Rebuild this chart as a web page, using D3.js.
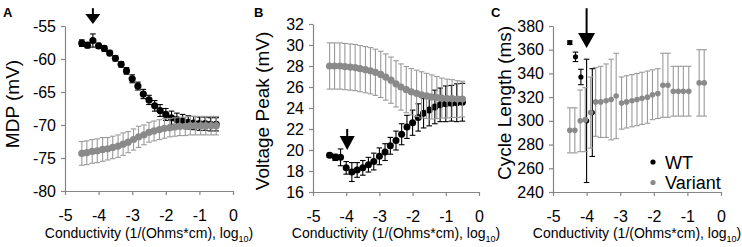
<!DOCTYPE html>
<html>
<head>
<meta charset="utf-8">
<script src="https://cdn.jsdelivr.net/npm/d3@7"></script>
<style>
  body { margin: 0; background: #fff; }
  svg { display: block; font-family: Arial, "Liberation Sans", sans-serif; }
</style>
</head>
<body>
<script>
// conductivity grid (log10), WT and Variant were run on slightly different grids
const wtX = [-4.5, -4.33, -4.17, -4, -3.83, -3.67, -3.5, -3.33, -3.17, -3, -2.83, -2.67, -2.5,
  -2.33, -2.17, -2, -1.83, -1.67, -1.5, -1.33, -1.17, -1, -0.83, -0.67, -0.5]
const variantX = [-4.5, -4.35, -4.19, -4.04, -3.88, -3.73, -3.58, -3.42, -3.27, -3.12, -2.96, -2.81,
  -2.65, -2.5, -2.35, -2.19, -2.04, -1.88, -1.73, -1.58, -1.42, -1.27, -1.12, -0.96, -0.81, -0.65, -0.5]

// A: MDP (mV)
const mdpWT = [-57.6, -57.9, -57.2, -58.0, -58.4, -59.1, -59.9, -60.8, -61.8, -63.0, -64.1, -65.3, -66.2,
  -67.1, -67.8, -68.4, -68.9, -69.2, -69.4, -69.6, -69.7, -69.8, -69.8, -69.9, -69.9]
const mdpWTErr = [0.5, 0.4, 1.0, 0.4, 0.4, 0.4, 0.4, 0.4, 0.5, 0.6, 0.6, 0.7, 0.7,
  0.8, 0.9, 0.9, 1.0, 1.0, 1.0, 1.0, 1.0, 1.0, 1.0, 1.0, 1.0]
const mdpVar = [-74.3, -74.2, -74.0, -73.9, -73.7, -73.6, -73.4, -73.2, -72.9, -72.6, -72.2, -71.8, -71.5,
  -71.1, -70.9, -70.7, -70.5, -70.4, -70.3, -70.2, -70.2, -70.1, -70.1, -70.1, -70.1, -70.1, -70.1]
const mdpVarErr = [1.8, 1.8, 1.8, 1.8, 1.8, 1.7, 1.7, 1.7, 1.7, 1.6, 1.6, 1.6, 1.5,
  1.5, 1.5, 1.5, 1.5, 1.4, 1.4, 1.4, 1.4, 1.4, 1.4, 1.4, 1.4, 1.4, 1.4]

// B: Voltage Peak (mV)
const peakWT = [19.5, 19.3, 19.3, 18.3, 17.9, 18.1, 18.3, 18.6, 18.9, 19.4, 19.8, 20.4, 20.9,
  21.5, 22.2, 22.6, 23.1, 23.5, 23.8, 24.1, 24.3, 24.4, 24.45, 24.5, 24.55]
const peakWTErr = [0.2, 0.3, 0.8, 0.6, 0.9, 0.7, 0.7, 0.7, 0.8, 0.8, 0.8, 0.8, 0.9,
  1.0, 1.1, 1.2, 1.3, 1.4, 1.5, 1.6, 1.6, 1.7, 1.7, 1.8, 1.8]
const peakVar = [28.0, 28.0, 28.0, 27.95, 27.9, 27.85, 27.75, 27.65, 27.55, 27.4, 27.2, 26.95, 26.65,
  26.3, 26.0, 25.75, 25.55, 25.4, 25.25, 25.15, 25.05, 25.0, 24.95, 24.9, 24.9, 24.85, 24.85]
const peakVarErr = [2.2, 2.2, 2.2, 2.2, 2.2, 2.2, 2.2, 2.2, 2.2, 2.2, 2.2, 2.2, 2.2,
  2.2, 2.2, 2.2, 2.2, 2.2, 2.2, 2.15, 2.1, 2.0, 1.9, 1.85, 1.8, 1.75, 1.7]

// C: Cycle Length (ms)
const cycleWTX = [-4.5, -4.33, -4.17, -4, -3.83]
const cycleWT = [366, 354, 337, 300, 307]
const cycleWTErr = [1.5, 4, 6.5, 52, 37]
const cycleVarX = [-4.5, -4.35, -4.19, -4.04, -3.88, -3.73, -3.58, -3.42, -3.27, -3.12, -2.96, -2.81,
  -2.65, -2.5, -2.35, -2.19, -2.04, -1.88, -1.73, -1.58, -1.42, -1.27, -1.12, -0.96, -0.65, -0.5]
const cycleVar = [292, 292, 300, 301, 307, 316, 316, 317, 318, 321, 315, 316,
  317, 318, 319, 320, 322, 323, 330, 330, 325, 325, 325, 325, 332, 332]
const cycleVarErr = [19, 19, 26, 27, 30, 29, 30, 31, 34, 36, 22, 22,
  22, 22, 22, 22, 21, 21, 27, 27, 21, 21, 21, 21, 28, 28]

// axes
const xTicks = [-5, -4, -3, -2, -1, 0]
const mdpTicks = [-80, -75, -70, -65, -60, -55]
const peakTicks = [16, 18, 20, 22, 24, 26, 28, 30, 32]
const cycleTicks = [240, 260, 280, 300, 320, 340, 360, 380]

const legendLabels = ['WT', 'Variant']

const BLACK = '#000'
const GREY = '#8a8a8a'
const GREY_BAR = '#9a9a9a'
const AXIS = '#868686'

const width = 742
const height = 247

const svg = d3.select('body').append('svg')
  .attr('width', width)
  .attr('height', height)

const panels = [
  {
    letter: 'A', letterX: 3, title: 'MDP (mV)', titleX: 18.5, titleY: 104,
    box: { left: 65, right: 233, top: 26, bottom: 191 },
    domain: [-80, -55], ticks: mdpTicks,
    arrow: { x: -4.17, top: -52.3, tip: -54.7, head: 10, w: 15 },
    series: [
      { x: wtX, y: mdpWT, err: mdpWTErr, fill: BLACK, bar: BLACK, r: 3.6 },
      { x: variantX, y: mdpVar, err: mdpVarErr, fill: GREY, bar: GREY_BAR, r: 3.6 }
    ]
  },
  {
    letter: 'B', letterX: 254, title: 'Voltage Peak (mV)', titleX: 268.5, titleY: 111,
    box: { left: 313, right: 479, top: 24, bottom: 192 },
    domain: [16, 32], ticks: peakTicks,
    arrow: { x: -3.97, top: 22.0, tip: 20.0, head: 14, w: 15 },
    series: [
      { x: wtX, y: peakWT, err: peakWTErr, fill: BLACK, bar: BLACK, r: 3.5 },
      { x: variantX, y: peakVar, err: peakVarErr, fill: GREY, bar: GREY_BAR, r: 3.6 }
    ]
  },
  {
    letter: 'C', letterX: 491, title: 'Cycle Length (ms)', titleX: 510.5, titleY: 103,
    box: { left: 553, right: 721, top: 26, bottom: 192 },
    domain: [240, 380], ticks: cycleTicks,
    arrow: { x: -4.0, top: 395, tip: 361.4, head: 15, w: 17 },
    series: [
      { x: cycleWTX, y: cycleWT, err: cycleWTErr, fill: BLACK, bar: BLACK, r: 2.6 },
      { x: cycleVarX, y: cycleVar, err: cycleVarErr, fill: GREY, bar: GREY_BAR, r: 2.8 }
    ],
    legend: true
  }
]

panels.forEach(p => {
  const x = d3.scaleLinear().domain([-5, 0]).range([p.box.left, p.box.right])
  const y = d3.scaleLinear().domain(p.domain).range([p.box.bottom, p.box.top])

  const g = svg.append('g')

  // y axis
  const yAxis = g.append('g')
    .attr('transform', `translate(${p.box.left},0)`)
    .call(d3.axisLeft(y).tickValues(p.ticks).tickSize(4).tickSizeOuter(0).tickPadding(5)
      .tickFormat(d => String(d)))
  // x axis
  const xAxis = g.append('g')
    .attr('transform', `translate(0,${p.box.bottom})`)
    .call(d3.axisBottom(x).tickValues(xTicks).tickSize(4).tickSizeOuter(0).tickPadding(14.6)
      .tickFormat(d => String(d)))

  ;[yAxis, xAxis].forEach(a => {
    a.select('.domain').attr('stroke', AXIS).attr('stroke-width', 1.2)
    a.selectAll('.tick line').attr('stroke', AXIS).attr('stroke-width', 1.2)
    a.selectAll('.tick text').attr('fill', '#000').style('font-size', '16px')
      .style('font-family', 'Arial, "Liberation Sans", sans-serif')
  })

  // x axis title with subscript
  const xt = g.append('text')
    .attr('x', (p.box.left + p.box.right) / 2)
    .attr('y', 238)
    .attr('text-anchor', 'middle')
    .style('font-size', '14px')
  xt.append('tspan').text('Conductivity (1/(Ohms*cm), log')
  xt.append('tspan').attr('dy', 4).style('font-size', '9px').text('10')
  xt.append('tspan').attr('dy', -4).text(')')

  // y axis title
  g.append('text')
    .attr('transform', `translate(${p.titleX},${p.titleY}) rotate(-90)`)
    .attr('text-anchor', 'middle')
    .style('font-size', '19px')
    .text(p.title)

  // panel letter
  g.append('text')
    .attr('x', p.letterX)
    .attr('y', 17)
    .style('font-size', '13px')
    .style('font-weight', 'bold')
    .text(p.letter)

  // series
  p.series.forEach(s => {
    const pts = s.x.map((xv, i) => ({ x: xv, y: s.y[i], e: s.err[i] }))
    const cap = 2.8

    const bars = g.append('g')
      .attr('stroke', s.bar)
      .attr('stroke-width', 1.1)
    bars.selectAll('line.v')
      .data(pts)
      .join('line')
      .attr('class', 'v')
      .attr('x1', d => x(d.x))
      .attr('x2', d => x(d.x))
      .attr('y1', d => y(d.y - d.e))
      .attr('y2', d => y(d.y + d.e))
    bars.selectAll('line.top')
      .data(pts)
      .join('line')
      .attr('class', 'top')
      .attr('x1', d => x(d.x) - cap)
      .attr('x2', d => x(d.x) + cap)
      .attr('y1', d => y(d.y + d.e))
      .attr('y2', d => y(d.y + d.e))
    bars.selectAll('line.bot')
      .data(pts)
      .join('line')
      .attr('class', 'bot')
      .attr('x1', d => x(d.x) - cap)
      .attr('x2', d => x(d.x) + cap)
      .attr('y1', d => y(d.y - d.e))
      .attr('y2', d => y(d.y - d.e))

    g.append('g')
      .selectAll('circle')
      .data(pts)
      .join('circle')
      .attr('cx', d => x(d.x))
      .attr('cy', d => y(d.y))
      .attr('r', s.r)
      .attr('fill', s.fill)
  })

  // arrow annotation
  const a = p.arrow
  const ax = x(a.x)
  const tipY = y(a.tip)
  const topY = y(a.top)
  g.append('line')
    .attr('x1', ax).attr('x2', ax)
    .attr('y1', topY).attr('y2', tipY - a.head + 1)
    .attr('stroke', '#000').attr('stroke-width', 2)
  g.append('path')
    .attr('d', `M${ax - a.w / 2},${tipY - a.head}L${ax + a.w / 2},${tipY - a.head}L${ax},${tipY}Z`)
    .attr('fill', '#000')

  if (p.legend) {
    const lg = g.append('g')
    const colors = [BLACK, GREY]
    legendLabels.forEach((label, i) => {
      lg.append('circle')
        .attr('cx', 653)
        .attr('cy', 162 + i * 20.5)
        .attr('r', 2.6)
        .attr('fill', colors[i])
      lg.append('text')
        .attr('x', 665)
        .attr('y', 168.5 + i * 20.5)
        .style('font-size', '18px')
        .text(label)
    })
  }
})
</script>
</body>
</html>
